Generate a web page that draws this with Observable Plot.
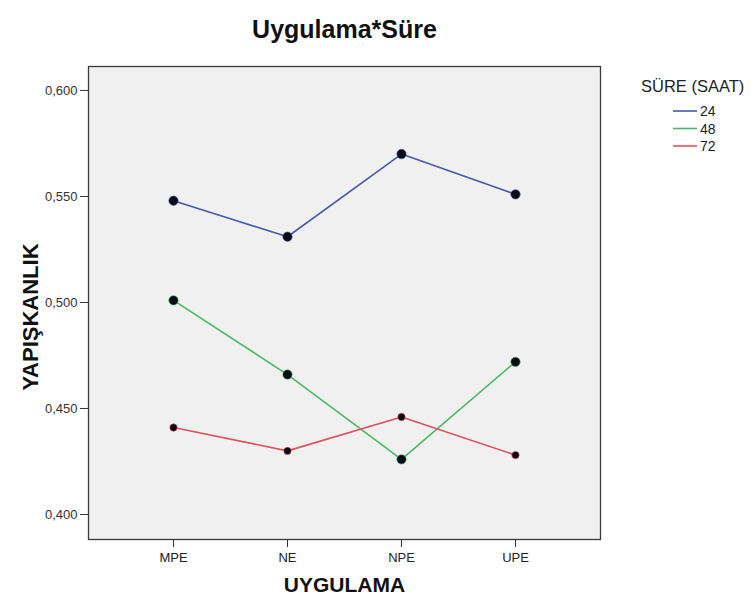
<!DOCTYPE html>
<html>
<head>
<meta charset="utf-8">
<script src="https://cdn.jsdelivr.net/npm/d3@7"></script>
<script src="https://cdn.jsdelivr.net/npm/@observablehq/plot@0.6"></script>
<style>
  html, body { margin: 0; padding: 0; background: #fff; }
  #chart { position: relative; width: 751px; height: 605px; }
</style>
</head>
<body>
<div id="chart"></div>
<script>
// Profile plot: estimated marginal means of YAPIŞKANLIK by UYGULAMA, one line per SÜRE (SAAT)
const uygulama = ["MPE", "NE", "NPE", "UPE"];
const sureLevels = ["24", "48", "72"];
const sure24 = [0.548, 0.531, 0.570, 0.551];
const sure48 = [0.501, 0.466, 0.426, 0.472];
const sure72 = [0.441, 0.430, 0.446, 0.428];
const yTicks = [0.40, 0.45, 0.50, 0.55, 0.60];
const lineColors = ["#4a5aa9", "#4cb865", "#e0505e"];
const markerRadius = [4.7, 4.7, 3.7];

const seriesValues = [sure24, sure48, sure72];
const rows = [];
sureLevels.forEach((s, i) => {
  uygulama.forEach((u, j) => rows.push({uygulama: u, sure: s, value: seriesValues[i][j], r: markerRadius[i]}));
});

const font = "'Liberation Sans', Arial, Helvetica, sans-serif";
const fmt = d => d.toFixed(3).replace(".", ",");

const chart = Plot.plot({
  width: 751,
  height: 605,
  marginLeft: 88,
  marginRight: 151,
  marginTop: 66,
  marginBottom: 66,
  style: {fontFamily: font, fontSize: "13px", color: "#222", background: "#fff"},
  x: {type: "point", domain: uygulama, padding: 0.73},
  y: {domain: [0.3882, 0.6113]},
  color: {domain: sureLevels, range: lineColors},
  r: {type: "identity"},
  marks: [
    Plot.frame({fill: "#f0f0f0", stroke: null}),
    Plot.axisY({ticks: yTicks, tickFormat: fmt, tickSize: 8, tickPadding: 3, label: null, stroke: "#333", fill: "#333", fontSize: 13}),
    Plot.axisX({tickSize: 8, tickPadding: 5, label: null, stroke: "#333", fill: "#222", fontSize: 13}),
    Plot.line(rows, {x: "uygulama", y: "value", z: "sure", stroke: "sure", strokeWidth: 1.6}),
    Plot.dot(rows, {x: "uygulama", y: "value", r: "r", fill: "#0a0a14", stroke: "sure", strokeWidth: 0.6}),
    Plot.frame({stroke: "#3a3a3a", strokeWidth: 1.3}),
    Plot.text(["Uygulama*Süre"], {frameAnchor: "top", textAnchor: "middle", dy: -46, fontSize: 25, fontWeight: "bold", fill: "#111"}),
    Plot.text(["UYGULAMA"], {frameAnchor: "bottom", textAnchor: "middle", dy: 52, fontSize: 21, fontWeight: "bold", fill: "#111"}),
    Plot.text(["YAPIŞKANLIK"], {frameAnchor: "left", textAnchor: "middle", dx: -58, dy: 14, rotate: -90, fontSize: 22, fontWeight: "bold", fill: "#111"})
  ]
});

document.getElementById("chart").appendChild(chart);

// Legend for SÜRE (SAAT), drawn into the same SVG
const svg = d3.select(chart);
const legend = svg.append("g").attr("font-family", font).attr("fill", "#222").attr("text-anchor", "start");
legend.append("text").attr("x", 641).attr("y", 92).attr("font-size", 16.5).text("SÜRE (SAAT)");
sureLevels.forEach((s, i) => {
  const y = 111 + i * 17.5;
  legend.append("line").attr("x1", 673).attr("x2", 697).attr("y1", y).attr("y2", y)
    .attr("stroke", lineColors[i]).attr("stroke-width", 1.6);
  legend.append("text").attr("x", 700).attr("y", y + 5).attr("font-size", 14).text(s);
});
</script>
</body>
</html>
